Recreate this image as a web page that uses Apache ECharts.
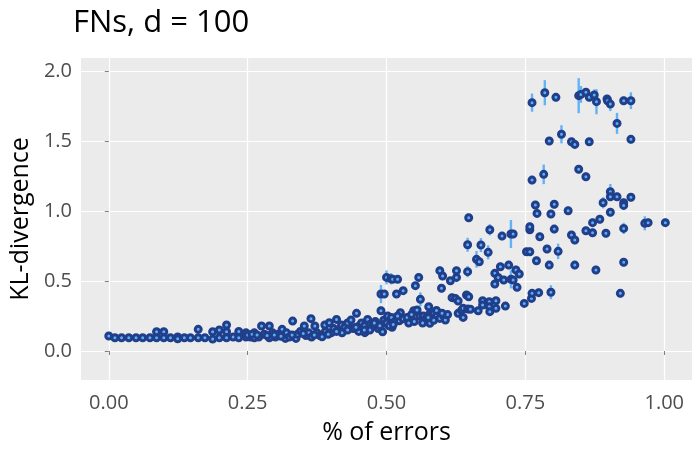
<!DOCTYPE html>
<html>
<head>
<meta charset="utf-8">
<script src="https://cdn.jsdelivr.net/npm/echarts@6/dist/echarts.min.js"></script>
<style>
  html, body { margin: 0; padding: 0; background: #ffffff; }
  #chart { width: 700px; height: 450px; }
</style>
</head>
<body>
<div id="chart"></div>
<script>
// % of errors (x), KL-divergence (y) and half-width of the error bar
const errorRate = [
  0, .011, .023, .036, .049, .061, .074, .086, .086, .099, .099, .111, .124, .124, .136, .147, .161, .161, .173, .187,
  .187, .199, .199, .212, .212, .212, .224, .234, .234, .247, .247, .255, .262, .262, .270, .275, .280, .289, .289, .295,
  .300, .305, .312, .318, .320, .325, .331, .337, .340, .345, .352, .355, .360, .364, .365, .371, .375, .380, .384, .389,
  .390, .397, .401, .405, .410, .415, .419, .420, .425, .430, .436, .440, .446, .450, .451, .455, .461, .466, .470, .475,
  .480, .485, .490, .493, .495, .499, .250, .258, .267, .285, .298, .310, .330, .350, .370, .395, .410, .430, .445, .460,
  .470, .478, .488, .460,
  // 0.5 - 0.6 band
  .490, .500, .508, .511, .520, .496, .518, .530, .552, .558, .561, .576, .502, .509, .500, .510, .515, .523, .525, .530,
  .537, .540, .549, .555, .560, .566, .570, .576, .579, .578, .585, .590, .596, .603, .606, .610, .505, .512, .520, .545,
  .550, .565, .585, .590, .600, .575,
  // 0.6 - 0.8
  .596, .601, .599, .615, .626, .626, .618, .624, .629, .629, .635, .638, .638, .646, .651, .665, .646, .646, .644, .648,
  .648, .670, .662, .667, .683, .686, .673, .673, .685, .685, .686, .697, .697, .695, .695, .701, .705, .711, .708, .714,
  .720, .724, .728, .724, .728, .733, .739, .735, .748, .752, .758, .758, .758, .761, .762, .770, .774, .776, .796, .789,
  .793, .809, .839, .877, .927, .921,
  // upper right
  .762, .768, .771, .783, .796, .802, .802, .827, .833, .839, .846, .859, .859, .871, .871, .884, .890, .895, .903, .903,
  .903, .915, .927, .927, .927, .940, .965, .971, 1.002,
  // top
  .762, .785, .805, .846, .850, .859, .865, .874, .878, .897, .898, .903, .927, .940, .915, .940, .793, .815, .833, .839,
  .865
]

const klDivergence = [
  .107, .095, .095, .095, .095, .095, .095, .095, .138, .138, .095, .095, .100, .088, .095, .095, .155, .095, .095, .138,
  .085, .150, .095, .186, .138, .095, .100, .140, .095, .100, .130, .100, .095, .130, .100, .179, .120, .179, .095, .130,
  .100, .120, .155, .090, .130, .100, .214, .090, .120, .140, .179, .110, .130, .231, .100, .179, .130, .110, .102, .186,
  .140, .202, .131, .160, .226, .150, .186, .130, .170, .200, .221, .160, .269, .140, .179, .200, .131, .226, .190, .179,
  .210, .160, .288, .138, .220, .198, .115, .120, .115, .110, .115, .105, .115, .125, .115, .120, .140, .150, .170, .180,
  .150, .200, .180, .150,
  .407, .526, .516, .512, .512, .407, .407, .431, .467, .526, .369, .316, .250, .240, .200, .170, .210, .216, .274, .230,
  .240, .200, .288, .293, .250, .250, .230, .257, .221, .198, .270, .250, .233, .250, .221, .260, .180, .190, .250, .260,
  .210, .200, .220, .290, .270, .240,
  .574, .536, .448, .502, .574, .526, .381, .376, .357, .269, .290, .305, .240, .300, .298, .288, .759, .567, .400, .388,
  .952, .757, .655, .638, .705, .866, .359, .329, .352, .316, .281, .359, .305, .555, .479, .526, .602, .507, .821, .321,
  .614, .836, .836, .512, .507, .579, .550, .455, .340, .709, .709, .866, .888, .376, .412, .645, .417, .816, .420, .729,
  .614, .712, .614, .579, .634, .412,
  1.221, 1.043, .983, 1.262, .979, 1.048, .871, 1.002, .829, .793, 1.298, 1.245, .859, .917, .845, .941, 1.059, .841, 1.138, 1.102,
  .991, 1.102, 1.059, 1.040, .876, 1.098, .912, .917, .917,
  1.774, 1.845, 1.812, 1.824, 1.833, 1.848, 1.812, 1.829, 1.781, 1.800, 1.788, 1.764, 1.788, 1.788, 1.626, 1.512, 1.500, 1.548, 1.495, 1.476,
  1.495
]

const klHalfWidth = [
  .01, .01, .01, .01, .01, .01, .01, .01, .015, .015, .01, .01, .015, .01, .01, .01, .015, .01, .01, .015,
  .01, .02, .01, .02, .015, .01, .01, .015, .01, .01, .015, .01, .01, .015, .01, .015, .015, .015, .01, .015,
  .01, .015, .02, .01, .015, .01, .02, .01, .015, .015, .015, .01, .015, .02, .01, .015, .015, .01, .01, .02,
  .015, .02, .015, .015, .02, .015, .02, .015, .02, .02, .02, .015, .03, .015, .02, .02, .015, .02, .02, .02,
  .02, .02, .03, .015, .02, .02, .01, .01, .01, .01, .01, .01, .01, .015, .01, .015, .015, .015, .02, .02,
  .015, .02, .02, .015,
  .065, .05, .04, .02, .02, .02, .02, .025, .025, .03, .05, .02, .02, .02, .02, .02, .02, .02, .02, .02,
  .02, .02, .02, .02, .02, .02, .02, .02, .02, .02, .02, .02, .02, .02, .02, .02, .02, .02, .02, .02,
  .02, .02, .02, .02, .02, .02,
  .03, .03, .03, .025, .02, .03, .03, .03, .025, .02, .02, .02, .02, .02, .02, .02, .05, .04, .025, .025,
  .03, .05, .06, .03, .05, .04, .02, .02, .02, .02, .02, .02, .02, .03, .03, .02, .03, .03, .03, .02,
  .03, .1, .03, .065, .03, .03, .03, .03, .02, .03, .03, .03, .03, .02, .03, .03, .03, .03, .05, .03,
  .03, .055, .03, .03, .03, .03,
  .03, .03, .03, .07, .03, .03, .03, .03, .03, .03, .03, .03, .03, .03, .03, .03, .04, .03, .055, .03,
  .03, .03, .03, .03, .04, .03, .05, .03, .03,
  .065, .09, .03, .125, .06, .03, .03, .04, .09, .03, .03, .05, .03, .06, .075, .03, .03, .065, .03, .03,
  .03
]

const xTicks = [0, 0.25, 0.5, 0.75, 1]
const yTicks = [0, 0.5, 1, 1.5, 2]

const chart = echarts.init(document.getElementById('chart'))

const points = errorRate.map((x, i) => [x, klDivergence[i]])
const bars = errorRate.map((x, i) => [x, klDivergence[i] - klHalfWidth[i], klDivergence[i] + klHalfWidth[i]])

const tickLabelStyle = {
  fontFamily: 'Open Sans',
  fontSize: 20,
  color: '#4D4D4D'
}

const option = {
  animation: false,
  backgroundColor: '#ffffff',
  title: {
    text: 'FNs, d = 100',
    left: 68,
    top: 3,
    textStyle: {
      fontFamily: 'Open Sans',
      fontSize: 31,
      fontWeight: 'normal',
      color: '#000000'
    }
  },
  grid: {
    left: 73,
    right: 8,
    top: 58,
    bottom: 70,
    show: true,
    backgroundColor: '#EBEBEB',
    borderWidth: 0
  },
  xAxis: {
    type: 'value',
    min: -0.05,
    max: 1.05,
    name: '% of errors',
    nameLocation: 'middle',
    nameGap: 40,
    nameTextStyle: { fontFamily: 'Open Sans', fontSize: 25, color: '#000000' },
    axisLine: { show: false },
    axisTick: { show: true, length: 4, customValues: xTicks, lineStyle: { color: '#7F7F7F' } },
    axisLabel: {
      ...tickLabelStyle,
      margin: 13,
      customValues: xTicks,
      formatter: (v) => v.toFixed(2)
    },
    splitLine: { show: true, lineStyle: { color: '#ffffff', width: 1.2 } }
  },
  yAxis: {
    type: 'value',
    min: -0.207,
    max: 2.093,
    name: 'KL-divergence',
    nameLocation: 'middle',
    nameGap: 38,
    nameTextStyle: { fontFamily: 'Open Sans', fontSize: 25, color: '#000000' },
    axisLine: { show: false },
    axisTick: { show: true, length: 4, customValues: yTicks, lineStyle: { color: '#7F7F7F' } },
    axisLabel: {
      ...tickLabelStyle,
      margin: 9,
      customValues: yTicks,
      formatter: (v) => v.toFixed(1)
    },
    splitLine: { show: true, lineStyle: { color: '#ffffff', width: 1.2 } }
  },
  series: [
    {
      name: 'ci',
      type: 'custom',
      z: 2,
      data: bars,
      renderItem: (params, api) => {
        const x = api.value(0)
        const lo = api.coord([x, api.value(1)])
        const hi = api.coord([x, api.value(2)])
        return {
          type: 'line',
          shape: { x1: lo[0], y1: lo[1], x2: hi[0], y2: hi[1] },
          style: { stroke: '#62B3F6', lineWidth: 2.4 }
        }
      }
    },
    {
      name: 'kl',
      type: 'scatter',
      z: 3,
      data: points,
      symbol: 'circle',
      symbolSize: 6,
      itemStyle: {
        color: '#5CAEF2',
        borderColor: '#213E8A',
        borderWidth: 3,
        opacity: 1
      }
    }
  ]
}

chart.setOption(option)
</script>
</body>
</html>
